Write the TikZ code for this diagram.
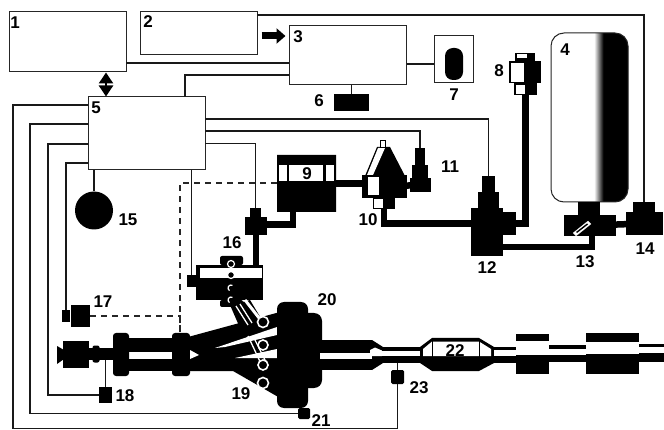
\documentclass[tikz,border=0pt]{standalone}
\usepackage{fontspec}
\setmainfont{Liberation Sans}
\usepackage{tikz}
\usetikzlibrary{shapes.misc, arrows.meta, calc}
\pgfdeclarehorizontalshading{tankfade}{100bp}{color(0bp)=(white); color(53bp)=(white); color(59bp)=(black); color(100bp)=(black)}

\begin{document}
\begin{tikzpicture}[
    x=1pt, y=-1pt,
    box/.style 2 args={rectangle, draw=black!85, line width=1pt, fill=white, inner sep=0pt,
                minimum width=#1pt, minimum height=#2pt},
    blk/.style 2 args={rectangle, fill=black, inner sep=0pt, outer sep=0pt,
                minimum width=#1pt, minimum height=#2pt},
    wht/.style 2 args={rectangle, fill=white, inner sep=0pt, outer sep=0pt,
                minimum width=#1pt, minimum height=#2pt},
    wire/.style={line width=1.4pt, black!90},
    dashwire/.style={line width=1.3pt, black!85, dash pattern=on 6pt off 5pt},
    pipe/.style={line width=6.5pt, black},
    bigarr/.style={line width=7pt, black, -{Triangle[length=9pt,width=15pt]}},
    twoarr/.style={line width=2.5pt, black, {Triangle[length=11pt,width=14pt]}-{Triangle[length=11pt,width=14pt]}},
    ring/.style={circle, draw=white, line width=1.6pt, fill=black, inner sep=0pt, minimum size=#1pt},
    lbl/.style={font=\bfseries\fontsize{17}{17}\selectfont, inner sep=0pt}
]
\useasboundingbox (0,0) rectangle (664,430);

% control boxes
\node[box={117}{60}] (b1) at (67.5,42) {};
\node[box={117}{43}] (b2) at (198.5,33.5) {};
\node[box={117}{59}] (b3) at (347.5,55.5) {};
\node[box={117}{73}] (ecu) at (146.5,133.5) {};
\node[blk={35}{17}] (s6) at (351.5,102.5) {};
\node[box={39}{47}] (b7) at (453.5,59.5) {};
\node[blk={18}{32}, rounded corners=8pt] (s7) at (454,64) {};
\node[circle, fill=black, minimum size=38pt, inner sep=0pt] (s15) at (94,210.5) {};

% tank and the units under it
\node[rectangle, draw=black!85, line width=1pt, rounded corners=13pt, shading=tankfade,
      minimum width=77pt, minimum height=169pt, inner sep=0pt] (tank) at (589.5,117.5) {};
\node[blk={22}{13}] (s13t) at (589,208.5) {};
\node[blk={52}{21}] (s13) at (590,225.5) {};
\node[blk={22}{10}] (s14t) at (644,207) {};
\node[blk={37}{23}] (s14) at (644.5,223.5) {};

% unit 12
\node[blk={13}{16}] (s12t) at (488.5,184) {};
\node[blk={21}{16}] (s12m) at (488.5,200) {};
\node[blk={32}{48}] (s12) at (487,232) {};
\node[blk={13}{23}] (s12s) at (509.5,223.5) {};

% unit 8
\node[blk={20}{8}] (s8c) at (525,57) {};
\node[blk={32}{22}] (s8) at (525,72) {};
\node[blk={23}{12}] (s8l) at (525.5,89) {};
\node[wht={14}{20}, draw=black, line width=0.8pt] (w8) at (517,72) {};
\node[wht={10}{10}, draw=black, line width=0.8pt] (w8l) at (520,89) {};
\node[wht={10}{4}] (w8c) at (522,56) {};

% unit 9
\node[chamfered rectangle, chamfered rectangle xsep=7pt, chamfered rectangle ysep=7pt,
      fill=black, inner sep=0pt, minimum width=59pt, minimum height=57pt] (s9) at (306.5,183.5) {};
\node[wht={55}{16}] (w9) at (306.5,173) {};
\node[blk={2.5}{16}] (w9a) at (288,173) {};
\node[blk={2.5}{16}] (w9b) at (324.5,173) {};
\node[lbl] (l9) at (307,174) {9};

% unit 10
\fill[black] (377,147) -- (390,147) -- (405,176) -- (365,176) -- cycle;
\fill[white] (378,148) -- (385,148) -- (373,175) -- (367,175) -- cycle;
\node[blk={45}{23}] (s10) at (384.5,186.5) {};
\node[blk={22}{11}] (s10l) at (384,203.5) {};
\node[wht={11}{18}] (w10) at (373.5,186) {};
\node[wht={9}{9}] (w10l) at (378.5,203.5) {};
\node[wht={5}{7}, draw=black, line width=0.6pt] (w10t) at (382.5,143.5) {};

% unit 11
\node[blk={10}{17}] (s11t) at (420,156.5) {};
\node[blk={16}{13}] (s11m) at (420,171.5) {};
\node[blk={21}{14}] (s11) at (420.5,185) {};

% tee above 16
\node[blk={11}{9}] (st) at (255.5,212.5) {};
\node[blk={22}{18}] (sb) at (256,226) {};

% unit 16
\node[blk={23}{9}, rounded corners=2pt] (s16t) at (231.5,260.5) {};
\node[blk={67}{35}] (s16) at (229.5,282.5) {};
\node[blk={9}{12}] (s16l) at (191.5,281) {};
\node[blk={23}{7}, rounded corners=2pt] (s16b) at (231.5,303.5) {};
\node[wht={62}{10}] (w16) at (231,273) {};
\node[ring=7, line width=1.2pt] (c1) at (231,264) {};
\node[ring=7, line width=1.2pt] (c2) at (231,275) {};
\draw[white, line width=1.2pt] (232.5,285.4) arc[start angle=60, end angle=240, radius=3pt];
\draw[white, line width=1.2pt] (232.5,297.4) arc[start angle=60, end angle=240, radius=3pt];

% sensors and the wires to them
\node[blk={8}{12}] (s17a) at (66,316) {};
\node[blk={19}{22}] (s17) at (80.5,316) {};
\node[blk={13}{16}] (s18) at (105.5,395) {};
\node[blk={12}{11}, rounded corners=1.5pt] (s21) at (304,413.5) {};
\node[blk={13}{14}, rounded corners=1.5pt] (s23) at (397.5,377) {};

% engine
\node[blk={26}{27}] (e1) at (76,354.5) {};
\fill[black] (57,346) -- (64,350) -- (64,359) -- (57,364) -- cycle;
\node[blk={26}{12}] (e2) at (100,354) {};
\node[blk={7}{17}, rounded corners=2pt] (e3) at (96,354) {};
\node[blk={46}{33}] (e4) at (150.5,354.5) {};
\node[wht={46}{7}] (w4) at (150.5,355.5) {};
\node[blk={16}{43}, rounded corners=3pt] (e5) at (121,354.5) {};
\node[blk={18}{43}, rounded corners=3pt] (e6) at (181,354.5) {};

% runners
\fill[black] (188,337) -- (280,312) -- (280,398) -- (233,371) -- (188,371) -- cycle;
\fill[white] (190,350) -- (199,355) -- (190,359) -- cycle;
\fill[white] (215,348) -- (277,327) -- (277,335) -- (225,347) -- cycle;
\fill[white] (235,358) -- (277,349) -- (277,358) -- cycle;
\fill[black] (230,305) -- (250,300) -- (262,320) -- (240,328) -- cycle;
\draw[white, line width=3pt] (245,300) -- (263,323);
\draw[white, line width=1.3pt] (236,306) -- (248,325);
\draw[white, line width=1.3pt] (240,304) -- (252,323);
\draw[white, line width=1.3pt] (248,336) -- (264,370);
\draw[white, line width=1.3pt] (253,336) -- (268,366);
\node[ring=11] (r1) at (263,322) {};
\node[ring=10] (r2) at (263,345) {};
\node[ring=10] (r3) at (263,365) {};
\node[ring=11] (r4) at (263,383) {};
\node[blk={31}{106}, rounded corners=7pt] (s20) at (292.5,355) {};
\node[blk={45}{75}, rounded corners=8pt] (s20b) at (299.5,350.5) {};

% exhaust line
\node[blk={52}{30}] (x1) at (346,355) {};
\node[wht={52}{6}] (w1) at (346,356) {};
\fill[black] (372,340) -- (383,347) -- (383,363) -- (372,370) -- cycle;
\fill[white] (370,350) -- (375,347.5) -- (383,351) -- (383,356) -- (370,356) -- cycle;
\node[blk={38}{16}] (x2) at (401,355) {};
\node[wht={38}{5}] (w2) at (401,353) {};
\fill[black] (420,347) -- (432,338) -- (479,338) -- (494,347) -- (494,363) -- (479,371) -- (432,371) -- (420,363) -- cycle;
\fill[white] (423,349) -- (432,341.5) -- (479,341.5) -- (491,349) -- (491,356) -- (423,356) -- cycle;
\draw[black, line width=1pt] (432,341) -- (432,357);
\draw[black, line width=1pt] (479,341) -- (479,357);
\node[lbl] (l22) at (455,351) {22};
\node[blk={22}{16}] (x3) at (505,355) {};
\node[wht={22}{6}] (w3) at (505,353) {};
\node[blk={33}{40}] (x4) at (532.5,354) {};
\node[wht={33}{14}] (w5) at (532.5,348) {};
\node[blk={37}{17}] (x5) at (567.5,353.5) {};
\node[wht={37}{6}] (w6) at (567.5,352) {};
\node[blk={53}{41}] (x6) at (612.5,353.5) {};
\node[wht={53}{12}] (w7) at (612.5,347.5) {};
\node[blk={25}{18}] (x7) at (651.5,353) {};
\node[wht={25}{6}] (w8a) at (651.5,350) {};

% connector ends
\coordinate (p2) at (257,15);
\coordinate (p1) at (126,63);
\coordinate (p3) at (289,75);
\coordinate (p5) at (185,97);
\coordinate (q1) at (88,105);
\coordinate (q2) at (88,124);
\coordinate (q3) at (88,144);
\coordinate (q4) at (88,163);
\coordinate (c13) at (13,428.5);
\coordinate (c30) at (30,413.5);
\coordinate (c48) at (48,395);
\coordinate (r12) at (205,119);
\coordinate (r11) at (205,131);
\coordinate (r16) at (205,143.5);
\coordinate (u16) at (191.5,170);
\coordinate (dj) at (180,183);
\coordinate (dm) at (180,332);
\coordinate (a23) at (258,36);
\coordinate (a15) at (106,85);
\coordinate (k13) at (592,247);
\coordinate (k9) at (293,224.5);

% connectors
\draw[wire] (p2) -| (s14t);
\draw[wire] (p1) -- (p1 -| b3.west);
\draw[wire] (p3) -| (p5);
\draw[wire] (q1) -| (c13) -| (s23);
\draw[wire] (q2) -| (c30) -- (s21);
\draw[wire] (q3) -| (c48) -- (s18);
\draw[wire] (q4) -| (s17a);
\draw[wire] (s15 |- ecu.south) -- (s15);
\draw[wire] (r12) -| (s12t);
\draw[wire] (r11) -| (s11t);
\draw[wire] (r16) -| (st);
\draw[wire] (u16) -- (s16l);
\draw[wire] (b3.east |- s7) -- (b7.west |- s7);
\draw[wire] (b3.south -| s6) -- (s6);
\draw[wire] (s18) -- (s18 |- e2.south);
\draw[wire] (s23) -- (s23 |- x2.south);
\draw[dashwire] (s9.west |- dj) -- (dj) -- (dm);
\draw[dashwire] (s17) -| (dm);
\draw[bigarr, shorten <=4pt, shorten >=3pt] (a23 -| b2.east) -- (a23 -| b3.west);
\draw[twoarr] (a15 |- b1.south) -- (a15 |- ecu.north);
\draw[pipe] (s8l) |- (s12s);
\draw[pipe] (k13 |- s13.south) -- (k13) -- (k13 -| s12.east);
\draw[pipe] (s13) -- (s14);
\draw[pipe] (s10l) |- (s12s -| s12.west);
\draw[pipe] (s9) -- (s9 -| s10.west);
\draw[pipe] (s10) -- (s11);
\draw[pipe] (k9 |- s9.south) -- (k9) -- (k9 -| sb.east);
\draw[pipe] (sb) -- (sb |- s16.north);
\fill[white, draw=black!10, line width=0.2pt] (573,233) -- (588,221) -- (591,224) -- (576,236) -- cycle;
\fill[black] (576,232) -- (587,223.5) -- (588,224.5) -- (577,233) -- cycle;

% labels
\node[lbl] (l1) at (15,23) {1};
\node[lbl] (l2) at (148,22) {2};
\node[lbl] (l3) at (298,37) {3};
\node[lbl] (l4) at (565,50) {4};
\node[lbl] (l5) at (96,108) {5};
\node[lbl] (l6) at (319,101) {6};
\node[lbl] (l7) at (454,95) {7};
\node[lbl] (l8) at (499,71) {8};
\node[lbl] (l10) at (368,220) {10};
\node[lbl] (l11) at (450,167) {11};
\node[lbl] (l12) at (487,268) {12};
\node[lbl] (l13) at (585,262) {13};
\node[lbl] (l14) at (645,249) {14};
\node[lbl] (l15) at (128,220) {15};
\node[lbl] (l16) at (232,243) {16};
\node[lbl] (l17) at (103,302) {17};
\node[lbl] (l18) at (125,396) {18};
\node[lbl] (l19) at (241,394) {19};
\node[lbl] (l20) at (327,300) {20};
\node[lbl] (l21) at (321,420.5) {21};
\node[lbl] (l23) at (419,388) {23};
\end{tikzpicture}
\end{document}
